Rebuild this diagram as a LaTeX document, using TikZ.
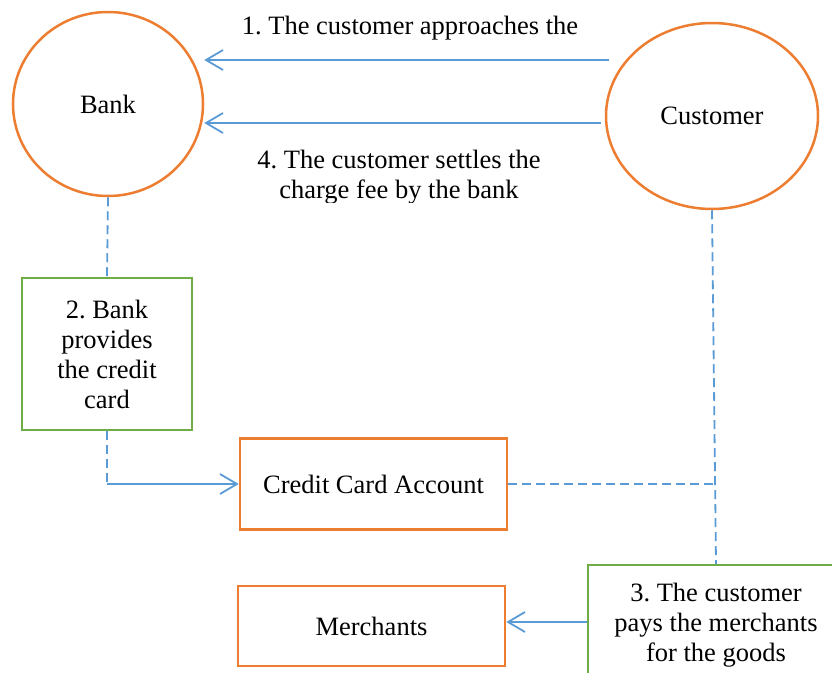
\documentclass[tikz,border=0pt]{standalone}
\usepackage{fontspec}
\setmainfont{Liberation Serif}
\usepackage{tikz}
\usetikzlibrary{shapes.geometric,arrows.meta}
\frenchspacing

\definecolor{shapeorange}{HTML}{ED7D31}
\definecolor{notegreen}{HTML}{70AD47}
\definecolor{linkblue}{HTML}{5B9BD5}

\tikzset{
  oval/.style={ellipse, draw=shapeorange, line width=2.5pt, inner sep=0pt},
  plainbox/.style={rectangle, draw=shapeorange, line width=2.5pt, inner sep=0pt},
  notebox/.style={rectangle, draw=notegreen, line width=2.5pt, inner sep=0pt, align=center},
  flow/.style={draw=linkblue, line width=1.8pt, -{Straight Barb[length=17pt,width=20pt]}},
  dashline/.style={draw=linkblue, line width=1.8pt, dash pattern=on 9pt off 5pt}
}

\begin{document}
\begin{tikzpicture}[x=1pt, y=-1pt, font=\fontsize{26.5}{30}\selectfont]
        \clip (0,0) rectangle (832,672);

        % Draw the two parties
        \node[oval, minimum width=190pt, minimum height=184pt] (bank) at (108,104) {Bank};
        \node[oval, minimum width=212pt, minimum height=186pt] (customer) at (712,116) {Customer};

        % Define the boxes
        \node[notebox, minimum width=170pt, minimum height=152pt] (provide) at (107,354) {2. Bank\\provides\\the credit\\card};
        \node[plainbox, minimum width=267pt, minimum height=91pt] (account) at (373.5,484) {Credit Card Account};
        \node[plainbox, minimum width=267pt, minimum height=80pt] (merchants) at (371.5,626) {Merchants};
        \node[notebox, minimum width=256pt, minimum height=120pt] (pay) at (716,625) {3. The customer\\pays the merchants\\for the goods};

        % Messages between customer and bank
        \node[anchor=base] (approach) at (410,34) {1. The customer approaches the};
        \begin{scope}
          \clip (240,140) rectangle (570,202);
          \node[align=center] (settle) at (399,177) {4. The customer settles the\\charge fee by the bank};
        \end{scope}
        \draw[flow] ([xshift=4pt, yshift=56pt]customer.west) -- ([yshift=44pt]bank.east);
        \draw[flow] ([xshift=-4pt, yshift=-7pt]customer.west) -- ([yshift=-19pt]bank.east);

        % Links to the card account
        \coordinate (elbow) at (provide.south |- account.west);
        \draw[dashline] (bank.south) -- (provide.north);
        \draw[dashline] (provide.south) -- (elbow);
        \draw[flow] (elbow) -- (account.west);
        \draw[dashline] (customer.south) -- (pay.north);
        \draw[dashline] (account.east) -- (account.east -| pay.north);

        % Payment to the merchants
        \draw[flow] ([yshift=3pt]pay.west) -- ([yshift=3pt]pay.west -| merchants.east);

    \end{tikzpicture}
\end{document}
